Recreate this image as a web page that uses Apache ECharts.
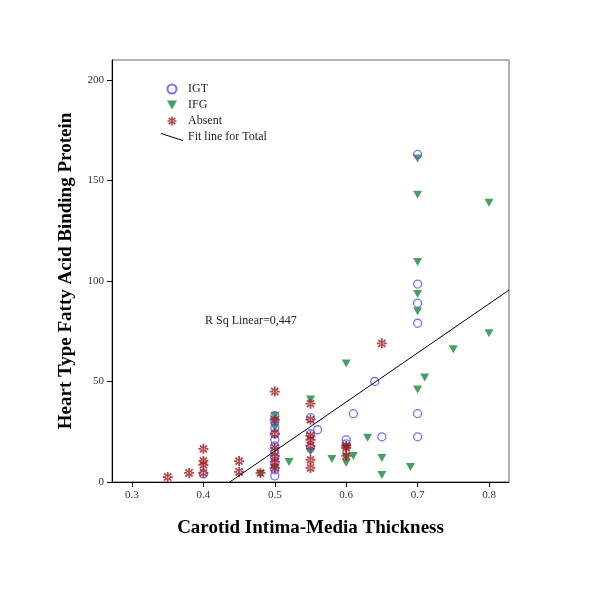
<!DOCTYPE html>
<html>
<head>
<meta charset="utf-8">
<script src="https://cdn.jsdelivr.net/npm/echarts@6/dist/echarts.min.js"></script>
<style>html,body{margin:0;padding:0;background:#fff}#c{width:600px;height:600px}</style>
</head>
<body>
<div id="c"></div>
<script>
// ---- data ----
var xTicks = [0.3, 0.4, 0.5, 0.6, 0.7, 0.8];
var yTicks = [0, 50, 100, 150, 200];
var igtX = [0.40, 0.50,0.50,0.50,0.50,0.50,0.50,0.50,0.50,0.50,0.50,0.50, 0.55,0.55,0.55, 0.56, 0.60,0.60, 0.61, 0.64, 0.65, 0.70,0.70,0.70,0.70,0.70,0.70];
var igtY = [4, 33,30,27,24,21,18,15,12,9,6,3, 32,24,17, 26, 21,19, 34, 50, 22.5, 163,98.5,89,79,34,22.5];
var ifgX = [0.48, 0.50,0.50,0.50,0.50, 0.52, 0.55,0.55, 0.58, 0.60,0.60,0.60,0.60, 0.61, 0.63, 0.65,0.65, 0.69, 0.70,0.70,0.70,0.70,0.70,0.70, 0.71, 0.75, 0.80,0.80];
var ifgY = [4, 33,30,27,7, 10, 41,15, 11.5, 59,17,12.5,9.5, 13, 22, 12,3.5, 7.5, 161,143,109.5,93.5,85,46, 52, 66, 139,74];
var absX = [0.35, 0.38, 0.40,0.40,0.40,0.40, 0.45,0.45, 0.48, 0.50,0.50,0.50,0.50,0.50,0.50,0.50, 0.55,0.55,0.55,0.55,0.55,0.55,0.55, 0.60,0.60,0.60, 0.65];
var absY = [2.5, 4.5, 16.5,10.5,8.5,4.5, 10.4,5, 4.5, 45,31,24,17,13,10,7, 39,31,23,21,18,11,7, 18,17,13, 69];
var fitX = [0.437, 0.828];
var fitY = [0, 95.5];
var seriesNames = ['IGT', 'IFG', 'Absent', 'Fit line for Total'];
var rSqText = 'R Sq Linear=0,447';
var xTitle = 'Carotid Intima-Media Thickness';
var yTitle = 'Heart Type Fatty Acid Binding Protein';

function pairs(xs, ys) { return xs.map(function (x, i) { return [x, ys[i]]; }); }

var serif = 'Liberation Serif';
var asterisk = 'path://M-0.9,-5 L0.9,-5 L0.9,5 L-0.9,5 Z M-5,-0.9 L-5,0.9 L5,0.9 L5,-0.9 Z M-4.2,-2.9 L-2.9,-4.2 L4.2,2.9 L2.9,4.2 Z M2.9,-4.2 L4.2,-2.9 L-2.9,4.2 L-4.2,2.9 Z';
var downTri = 'path://M0,0 L10,0 L5,9 Z';
var lineIcon = 'path://M0,0 L22,7 L22,8.2 L0,1.2 Z';

var chart = echarts.init(document.getElementById('c'), null, {renderer: 'canvas'});
chart.setOption({
  animation: false,
  backgroundColor: '#fff',
  grid: {left: 112, right: 91, top: 60, bottom: 118, show: true, borderColor: '#666', borderWidth: 1},
  xAxis: {
    type: 'value', min: 0.272, max: 0.828,
    axisLine: {lineStyle: {color: '#000', width: 1}},
    axisTick: {show: true, length: 5, customValues: xTicks, lineStyle: {color: '#000'}},
    axisLabel: {customValues: xTicks, margin: 8, fontFamily: serif, fontSize: 11, color: '#333',
      formatter: function (v) { return v.toFixed(1); }},
    splitLine: {show: false},
    name: xTitle, nameLocation: 'middle', nameGap: 37,
    nameTextStyle: {fontFamily: serif, fontSize: 19, fontWeight: 'bold', color: '#000'}
  },
  yAxis: {
    type: 'value', min: 0, max: 210,
    axisLine: {show: true, lineStyle: {color: '#000', width: 1}},
    axisTick: {show: true, length: 5, customValues: yTicks, lineStyle: {color: '#000'}},
    axisLabel: {customValues: yTicks, margin: 8, fontFamily: serif, fontSize: 11, color: '#333'},
    splitLine: {show: false},
    name: yTitle, nameLocation: 'middle', nameGap: 36, nameRotate: 90,
    nameTextStyle: {fontFamily: serif, fontSize: 19, fontWeight: 'bold', color: '#000'}
  },
  legend: {
    orient: 'vertical', left: 156, top: 78, itemGap: 4, itemWidth: 22, itemHeight: 9,
    textStyle: {fontFamily: serif, fontSize: 12, color: '#222', lineHeight: 12},
    data: [
      {name: seriesNames[0]},
      {name: seriesNames[1]},
      {name: seriesNames[2]},
      {name: seriesNames[3], icon: lineIcon, itemStyle: {color: '#000'}}
    ]
  },
  graphic: [{
    type: 'text', left: 205, top: 315,
    style: {text: rSqText, font: '12px "Liberation Serif"', fill: '#222'}
  }],
  series: [
    {name: seriesNames[0], type: 'scatter', data: pairs(igtX, igtY), symbol: 'circle', symbolSize: 8,
      itemStyle: {color: 'rgba(0,0,0,0)', borderColor: '#4d4dff', borderWidth: 1.3}, z: 3},
    {name: seriesNames[1], type: 'scatter', data: pairs(ifgX, ifgY), symbol: downTri, symbolSize: [9, 8],
      itemStyle: {color: '#178a3c'}, z: 2},
    {name: seriesNames[2], type: 'scatter', data: pairs(absX, absY), symbol: asterisk, symbolSize: 10,
      itemStyle: {color: '#a31a1f'}, z: 4},
    {name: seriesNames[3], type: 'line', data: pairs(fitX, fitY), symbol: 'none',
      lineStyle: {color: '#000', width: 1}, itemStyle: {color: '#000'}, z: 5}
  ]
});
</script>
</body>
</html>
